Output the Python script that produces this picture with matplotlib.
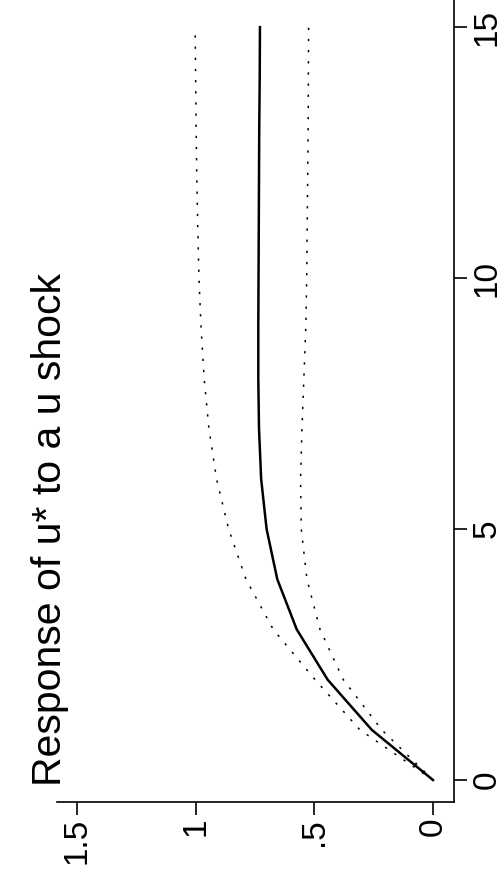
import matplotlib
matplotlib.use("Agg")
import matplotlib.pyplot as plt

# impulse response
periods = list(range(16))
irf = [0, 0.258, 0.444, 0.574, 0.656, 0.701, 0.724, 0.733, 0.736,
       0.736, 0.735, 0.734, 0.733, 0.732, 0.730, 0.729]
upper = [0, 0.308, 0.497, 0.673, 0.788, 0.861, 0.912, 0.944, 0.964,
         0.977, 0.986, 0.991, 0.995, 0.998, 1.000, 1.002]
lower = [0, 0.216, 0.378, 0.476, 0.531, 0.555, 0.558, 0.552, 0.544,
         0.536, 0.532, 0.530, 0.528, 0.526, 0.525, 0.524]
resp_ticks = [0, 0.5, 1, 1.5]
resp_labels = ["0", ".5", "1", "1.5"]
period_ticks = [0, 5, 10, 15]
title = "Response of u* to a u shock"

plt.rcParams["font.family"] = ["Liberation Sans", "DejaVu Sans"]

fig = plt.figure(figsize=(5.03, 8.82), dpi=100)
ax = fig.add_axes([57 / 503, 80 / 882, 397 / 503, 802 / 882])

# the graph is turned on its side: periods run up, response runs left
ax.plot(upper, periods, color="black", lw=1.1, ls=(0, (1.5, 5.8)))
ax.plot(lower, periods, color="black", lw=1.1, ls=(0, (1.5, 5.8)))
ax.plot(irf, periods, color="black", lw=1.8)

ax.set_xlim(1.584, -0.0885)
ax.set_ylim(-0.438, 15.54)

ax.spines["left"].set_visible(False)
ax.spines["top"].set_visible(False)
ax.spines["bottom"].set_linewidth(1.2)
ax.spines["right"].set_linewidth(1.2)

ax.set_xticks(resp_ticks)
ax.set_xticklabels(resp_labels, rotation=90, fontsize=24)
ax.yaxis.tick_right()
ax.set_yticks(period_ticks)
ax.set_yticklabels([str(p) for p in period_ticks], rotation=90, fontsize=24, va="center")
ax.tick_params(axis="x", length=9.5, width=1.2, pad=2)
ax.tick_params(axis="y", length=9.5, width=1.2, pad=3)

fig.text(50 / 503, 1 - 530 / 882, title, rotation=90, fontsize=29.5,
         ha="center", va="center")

fig.savefig("out.png", dpi=100)
